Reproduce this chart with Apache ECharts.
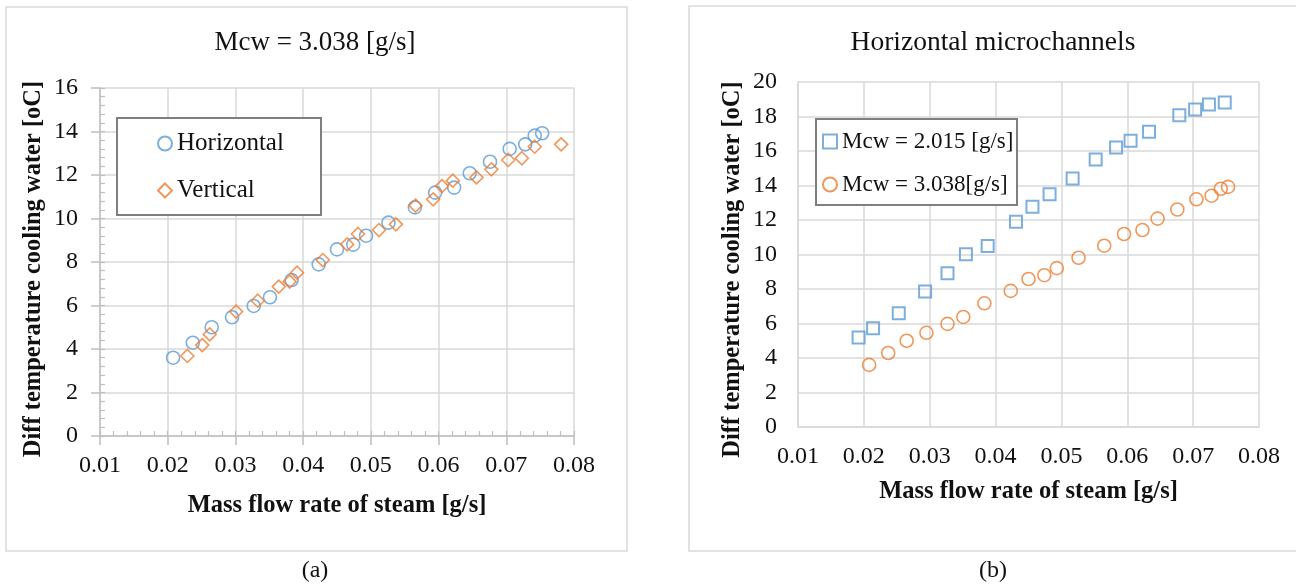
<!DOCTYPE html>
<html>
<head>
<meta charset="utf-8">
<script src="https://cdn.jsdelivr.net/npm/echarts@6/dist/echarts.min.js"></script>
<style>
html,body{margin:0;padding:0;background:#fff;}
#chart{width:1296px;height:585px;}
</style>
</head>
<body>
<div id="chart"></div>
<script>
// ---- Data ----
// Mcw = 3.038 g/s, horizontal microchannels (left: "Horizontal", right: "Mcw = 3.038[g/s]")
const horizX = [0.0208, 0.0237, 0.0265, 0.0295, 0.0327, 0.0351, 0.0383, 0.0423, 0.0450, 0.0474, 0.0493, 0.0526, 0.0565, 0.0595, 0.0623, 0.0646, 0.0676, 0.0705, 0.0728, 0.0742, 0.0753];
const horizY = [3.60, 4.29, 5.00, 5.46, 5.98, 6.38, 7.17, 7.89, 8.58, 8.80, 9.21, 9.81, 10.51, 11.19, 11.42, 12.08, 12.61, 13.20, 13.41, 13.81, 13.92];
// Mcw = 3.038 g/s, vertical microchannels
const vertX = [0.0229, 0.0251, 0.0262, 0.0301, 0.0333, 0.0364, 0.0380, 0.0391, 0.0429, 0.0465, 0.0481, 0.0512, 0.0537, 0.0566, 0.0592, 0.0605, 0.0621, 0.0656, 0.0678, 0.0703, 0.0723, 0.0742, 0.0781];
const vertY = [3.68, 4.18, 4.67, 5.72, 6.22, 6.87, 7.10, 7.51, 8.09, 8.81, 9.29, 9.47, 9.73, 10.59, 10.88, 11.49, 11.74, 11.89, 12.26, 12.69, 12.77, 13.30, 13.41];
// Mcw = 2.015 g/s, horizontal microchannels
const mcw2015X = [0.0192, 0.0214, 0.0253, 0.0293, 0.0327, 0.0355, 0.0388, 0.0431, 0.0456, 0.0482, 0.0517, 0.0552, 0.0583, 0.0605, 0.0633, 0.0679, 0.0703, 0.0724, 0.0748];
const mcw2015Y = [5.19, 5.73, 6.60, 7.85, 8.91, 10.01, 10.49, 11.90, 12.77, 13.50, 14.41, 15.51, 16.20, 16.59, 17.11, 18.07, 18.40, 18.69, 18.81];

const titleA = 'Mcw = 3.038 [g/s]';
const titleB = 'Horizontal microchannels';
const xName = 'Mass flow rate of steam [g/s]';
const yName = 'Diff temperature cooling water [oC]';
const seriesNamesA = ['Horizontal', 'Vertical'];
const seriesNamesB = ['Mcw = 2.015 [g/s]', 'Mcw = 3.038[g/s]'];
const captions = ['(a)', '(b)'];

// ---- helpers ----
const zip = (xs, ys) => xs.map((x, i) => [x, ys[i]]);
const FONT = '"Liberation Serif", "Times New Roman", serif';
const BLUE = '#5b9bd5';
const ORANGE = '#ed7d31';
const GRID = '#d9d9d9';

const chart = echarts.init(document.getElementById('chart'), null, {renderer: 'canvas'});

const labelStyle = {fontFamily: FONT, fontSize: 24, color: '#111'};
const nameStyle = {fontFamily: FONT, fontSize: 24.5, fontWeight: 'bold', color: '#111'};

function hollow(color, w) {
  return {color: 'rgba(0,0,0,0)', borderColor: color, borderWidth: w};
}

const option = {
  backgroundColor: '#fff',
  animation: false,
  grid: [
    {left: 100, top: 88, width: 474, height: 348},
    {left: 798, top: 82, width: 461, height: 345}
  ],
  xAxis: [
    { // left main
      type: 'value', gridIndex: 0, min: 0.01, max: 0.08, interval: 0.01,
      name: xName, nameLocation: 'middle', nameGap: 57, nameTextStyle: nameStyle,
      axisLine: {lineStyle: {color: '#bfbfbf', width: 1.5}},
      axisTick: {show: true, inside: false, length: 9, lineStyle: {color: '#bfbfbf', width: 1.5}},
      axisLabel: Object.assign({margin: 18, formatter: v => v.toFixed(2)}, labelStyle),
      splitLine: {show: true, lineStyle: {color: GRID, width: 1.5}}
    },
    { // left minor ticks
      type: 'value', gridIndex: 0, min: 0.01, max: 0.08, interval: 0.002, position: 'bottom',
      axisLine: {show: false}, axisLabel: {show: false}, splitLine: {show: false},
      axisTick: {show: true, inside: true, length: 5, lineStyle: {color: '#bfbfbf', width: 1.2}}
    },
    { // right main
      type: 'value', gridIndex: 1, min: 0.01, max: 0.08, interval: 0.01,
      name: xName, nameLocation: 'middle', nameGap: 52, nameTextStyle: nameStyle,
      axisLine: {lineStyle: {color: GRID, width: 1.5}},
      axisTick: {show: false},
      axisLabel: Object.assign({margin: 18, formatter: v => v.toFixed(2)}, labelStyle),
      splitLine: {show: true, lineStyle: {color: GRID, width: 1.5}}
    }
  ],
  yAxis: [
    { // left main
      type: 'value', gridIndex: 0, min: 0, max: 16, interval: 2,
      name: yName, nameLocation: 'middle', nameGap: 54, nameTextStyle: Object.assign({padding: [0, 14, 0, 0]}, nameStyle),
      axisLine: {show: true, lineStyle: {color: '#bfbfbf', width: 1.5}},
      axisTick: {show: true, inside: false, length: 9, lineStyle: {color: '#bfbfbf', width: 1.5}},
      axisLabel: Object.assign({margin: 22}, labelStyle),
      splitLine: {show: true, lineStyle: {color: GRID, width: 1.5}}
    },
    { // left minor ticks
      type: 'value', gridIndex: 0, min: 0, max: 16, interval: 0.4, position: 'left',
      axisLine: {show: false}, axisLabel: {show: false}, splitLine: {show: false},
      axisTick: {show: true, inside: true, length: 5, lineStyle: {color: '#bfbfbf', width: 1.2}}
    },
    { // right main
      type: 'value', gridIndex: 1, min: 0, max: 20, interval: 2,
      name: yName, nameLocation: 'middle', nameGap: 53, nameTextStyle: Object.assign({padding: [0, 30, 0, 0]}, nameStyle),
      axisLine: {show: true, lineStyle: {color: GRID, width: 1.5}},
      axisTick: {show: false},
      axisLabel: Object.assign({margin: 21}, labelStyle),
      splitLine: {show: true, lineStyle: {color: GRID, width: 1.5}}
    }
  ],
  legend: [
    {
      data: seriesNamesA, orient: 'vertical', left: 157, top: 131, itemGap: 22, z: 6, padding: 0,
      itemWidth: 14, itemHeight: 14,
      textStyle: {fontFamily: FONT, fontSize: 25, color: '#111', lineHeight: 25}
    },
    {
      data: seriesNamesB, orient: 'vertical', left: 822, top: 130, itemGap: 20, z: 6, padding: 0,
      itemWidth: 14, itemHeight: 14,
      textStyle: {fontFamily: FONT, fontSize: 23, color: '#111', lineHeight: 22}
    }
  ],
  graphic: [
    {type: 'rect', z: -10, silent: true, shape: {x: 6, y: 7, width: 621, height: 544}, style: {fill: '#fff', stroke: GRID, lineWidth: 1.5}},
    {type: 'rect', z: -10, silent: true, shape: {x: 689, y: 6, width: 620, height: 545}, style: {fill: '#fff', stroke: GRID, lineWidth: 1.5}},
    {type: 'rect', z: 3, silent: true, shape: {x: 117, y: 118, width: 204, height: 97}, style: {fill: '#fff', stroke: '#7f7f7f', lineWidth: 2}},
    {type: 'rect', z: 3, silent: true, shape: {x: 816, y: 119, width: 201, height: 86}, style: {fill: '#fff', stroke: '#7f7f7f', lineWidth: 2}},
    {type: 'text', z: 10, x: 315, y: 43, style: {text: titleA, fontFamily: FONT, fontSize: 27, fill: '#111', textAlign: 'center', textVerticalAlign: 'middle'}},
    {type: 'text', z: 10, x: 993, y: 43, style: {text: titleB, fontFamily: FONT, fontSize: 27.5, fill: '#111', textAlign: 'center', textVerticalAlign: 'middle'}},
    {type: 'text', z: 10, x: 315, y: 571, style: {text: captions[0], fontFamily: FONT, fontSize: 24, fill: '#111', textAlign: 'center', textVerticalAlign: 'middle'}},
    {type: 'text', z: 10, x: 993, y: 571, style: {text: captions[1], fontFamily: FONT, fontSize: 24, fill: '#111', textAlign: 'center', textVerticalAlign: 'middle'}}
  ],
  series: [
    {
      name: seriesNamesA[0], type: 'scatter', xAxisIndex: 0, yAxisIndex: 0,
      symbol: 'circle', symbolSize: 13, itemStyle: hollow(BLUE, 1.6),
      data: zip(horizX, horizY)
    },
    {
      name: seriesNamesA[1], type: 'scatter', xAxisIndex: 0, yAxisIndex: 0,
      symbol: 'diamond', symbolSize: 13, itemStyle: hollow(ORANGE, 1.6),
      data: zip(vertX, vertY)
    },
    {
      name: seriesNamesB[0], type: 'scatter', xAxisIndex: 2, yAxisIndex: 2,
      symbol: 'rect', symbolSize: 12, itemStyle: hollow(BLUE, 2),
      data: zip(mcw2015X, mcw2015Y)
    },
    {
      name: seriesNamesB[1], type: 'scatter', xAxisIndex: 2, yAxisIndex: 2,
      symbol: 'circle', symbolSize: 13, itemStyle: hollow(ORANGE, 1.6),
      data: zip(horizX, horizY)
    }
  ]
};
chart.setOption(option);
</script>
</body>
</html>
